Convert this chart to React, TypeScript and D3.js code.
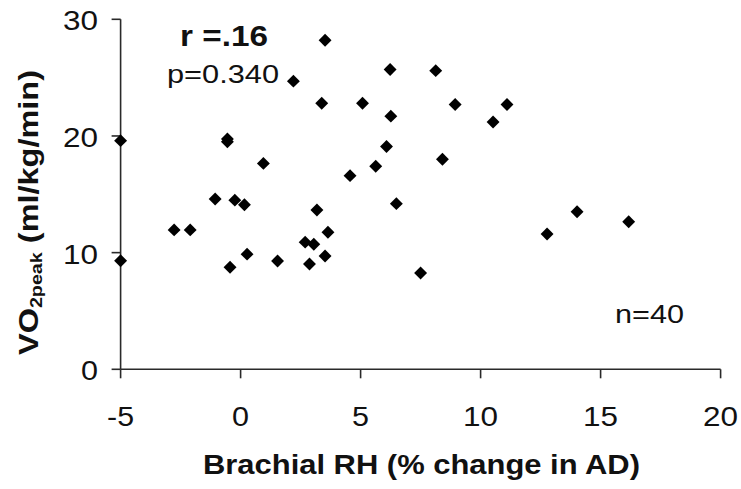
import React from "react";
import * as d3 from "d3";

const xValues: number[] = [
  3.52, 2.2, 3.38, 5.08, -5.0, -0.55, -0.55, 0.95, 4.56, -1.06, -0.24, 0.16, 3.18,
  -2.77, -2.1, 3.64, 2.69, 3.05, -5.0, -0.44, 0.27, 1.54, 2.87, 3.52, 6.23, 8.13,
  8.94, 11.1, 6.26, 10.52, 6.08, 5.63, 8.41, 6.49, 14.02, 16.17, 12.77, 7.5,
];
const yValues: number[] = [
  28.2, 24.7, 22.8, 22.8, 19.6, 19.75, 19.5, 17.65, 16.6, 14.6, 14.5, 14.1, 13.65,
  11.95, 11.95, 11.75, 10.9, 10.72, 9.3, 8.75, 9.87, 9.28, 9.03, 9.71, 25.7, 25.6,
  22.7, 22.7, 21.7, 21.2, 19.1, 17.4, 18.0, 14.2, 13.5, 12.65, 11.6, 8.25,
];
const xTicks: number[] = [-5, 0, 5, 10, 15, 20];
const yTicks: number[] = [0, 10, 20, 30];
const xTitle = "Brachial RH (% change in AD)";
const rLabel = "r =.16";
const pLabel = "p=0.340";
const nLabel = "n=40";

const W = 741;
const H = 489;
const FONT = "'Liberation Sans', Arial, Helvetica, sans-serif";

export default function App() {
  const x = d3.scaleLinear().domain([-5, 20]).range([120.6, 720.6]);
  const y = d3.scaleLinear().domain([0, 30]).range([369.3, 19.3]);
  const diamond = d3.symbol().type(d3.symbolDiamond2).size(106)();
  const axisColor = "#2a2a2a";
  const tickLen = 9;
  const labelWidth = (t: string) => (t.length === 1 ? 17 : t.startsWith("-") ? 27 : 35);

  return (
    <svg
      width={W}
      height={H}
      style={{ position: "absolute", left: 0, top: 0, background: "#fff" }}
      fontFamily={FONT}
    >
      <rect x={0} y={0} width={W} height={H} fill="#fff" />
      {/* y axis */}
      <line x1={x(-5)} x2={x(-5)} y1={y(0)} y2={y(30)} stroke={axisColor} strokeWidth={1.6} />
      {yTicks.map((t) => (
        <g key={"yt" + t}>
          <line x1={x(-5) - tickLen} x2={x(-5)} y1={y(t)} y2={y(t)} stroke={axisColor} strokeWidth={1.6} />
          <text
            x={98}
            y={y(t) + 11}
            fontSize={27}
            textAnchor="end"
            textLength={labelWidth(String(t))}
            lengthAdjust="spacingAndGlyphs"
            fill="#111"
          >
            {t}
          </text>
        </g>
      ))}
      {/* x axis */}
      <line x1={x(-5)} x2={x(20)} y1={y(0)} y2={y(0)} stroke={axisColor} strokeWidth={1.6} />
      {xTicks.map((t) => (
        <g key={"xt" + t}>
          <line x1={x(t)} x2={x(t)} y1={y(0)} y2={y(0) + tickLen} stroke={axisColor} strokeWidth={1.6} />
          <text
            x={x(t)}
            y={426}
            fontSize={27}
            textAnchor="middle"
            textLength={labelWidth(String(t))}
            lengthAdjust="spacingAndGlyphs"
            fill="#111"
          >
            {t}
          </text>
        </g>
      ))}
      {/* points */}
      {xValues.map((v, i) => (
        <path key={"p" + i} d={diamond || ""} transform={`translate(${x(v)},${y(yValues[i])})`} fill="#000" />
      ))}
      {/* x title */}
      <text
        x={421.5}
        y={474}
        fontSize={28}
        fontWeight="bold"
        textAnchor="middle"
        textLength={437}
        lengthAdjust="spacingAndGlyphs"
        fill="#111"
      >
        {xTitle}
      </text>
      {/* y title */}
      <text
        transform="translate(38,212.5) rotate(-90) scale(1.16,1)"
        fontSize={28}
        fontWeight="bold"
        textAnchor="middle"
        fill="#111"
      >
        VO
        <tspan fontSize={17} dy={4}>
          2peak
        </tspan>
        <tspan dy={-4}> (ml/kg/min)</tspan>
      </text>
      {/* annotations */}
      <text x={180} y={46} fontSize={29} fontWeight="bold" textLength={88} lengthAdjust="spacingAndGlyphs" fill="#111">
        {rLabel}
      </text>
      <text x={167} y={83} fontSize={26} textLength={112} lengthAdjust="spacingAndGlyphs" fill="#111">
        {pLabel}
      </text>
      <text x={615} y={323} fontSize={26} textLength={69} lengthAdjust="spacingAndGlyphs" fill="#111">
        {nLabel}
      </text>
    </svg>
  );
}
